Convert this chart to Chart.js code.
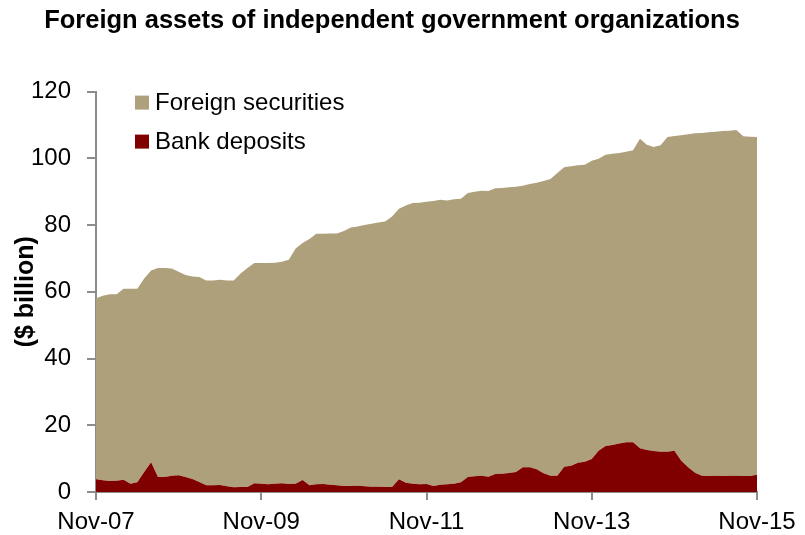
<!DOCTYPE html>
<html>
<head>
<meta charset="utf-8">
<script src="https://cdn.jsdelivr.net/npm/chart.js@4.4.1/dist/chart.umd.min.js"></script>
<style>
  html, body { margin: 0; padding: 0; background: #fff; }
  #wrap { width: 805px; height: 535px; }
</style>
</head>
<body>
<div id="wrap"><canvas id="assetsChart" width="805" height="535"></canvas></div>
<script>
// monthly, Nov-07 .. Nov-15
const months = ['Jan','Feb','Mar','Apr','May','Jun','Jul','Aug','Sep','Oct','Nov','Dec'];
const labels = [];
for (let i = 0; i <= 96; i++) {
    const m = (10 + i) % 12;
    const y = 7 + Math.floor((10 + i) / 12);
    labels.push(months[m] + '-' + String(y).padStart(2, '0'));
}

// $ billion
const bankDeposits = [
    3.8, 3.5, 3.3, 3.4, 3.7, 2.5, 2.9, 6.0, 8.9, 4.5, 4.5, 4.9,
    5.0, 4.5, 3.9, 3.0, 2.0, 2.0, 2.1, 1.7, 1.4, 1.5, 1.5, 2.6,
    2.5, 2.3, 2.5, 2.6, 2.4, 2.5, 3.6, 2.0, 2.3, 2.4, 2.2, 2.0,
    1.8, 1.8, 1.9, 1.7, 1.6, 1.6, 1.5, 1.5, 3.8, 2.8, 2.5, 2.3,
    2.4, 1.8, 2.2, 2.3, 2.5, 2.9, 4.5, 4.7, 4.9, 4.6, 5.4, 5.5,
    5.7, 6.0, 7.4, 7.4, 6.8, 5.6, 4.9, 4.9, 7.6, 7.9, 8.8, 9.1,
    9.9, 12.4, 13.8, 14.1, 14.5, 14.9, 14.9, 13.1, 12.6, 12.3, 12.1, 12.1,
    12.4, 9.4, 7.4, 5.8, 4.9, 4.8, 4.9, 4.8, 4.9, 4.9, 4.8, 4.8,
    5.2
];
const foreignSecurities = [
    54.3, 55.3, 56.0, 55.9, 57.2, 58.4, 58.0, 58.0, 57.5, 62.6, 62.6, 62.1,
    61.0, 60.5, 60.7, 61.4, 61.4, 61.4, 61.5, 61.7, 62.0, 64.0, 65.6, 66.0,
    66.1, 66.3, 66.2, 66.4, 67.2, 70.5, 71.0, 73.8, 75.1, 75.0, 75.3, 75.5,
    76.4, 77.5, 77.7, 78.3, 78.8, 79.2, 79.6, 81.1, 81.1, 83.1, 84.1, 84.4,
    84.6, 85.4, 85.4, 85.1, 85.2, 85.0, 85.1, 85.3, 85.4, 85.6, 85.6, 85.6,
    85.6, 85.5, 84.4, 84.9, 85.9, 87.6, 88.9, 90.7, 89.7, 89.7, 89.1, 89.0,
    89.4, 87.5, 87.3, 87.3, 87.1, 87.1, 87.5, 92.8, 91.5, 91.1, 91.8, 94.3,
    94.3, 97.5, 99.8, 101.7, 102.7, 103.0, 103.1, 103.4, 103.4, 103.6, 101.8, 101.7,
    101.2
];

const yTicks = [0, 20, 40, 60, 80, 100, 120];

const FONT = '"Liberation Sans", Arial, sans-serif';
Chart.defaults.font.family = FONT;
Chart.defaults.color = '#000';

// stacked legend drawn inside the plot, securities first
const innerLegend = {
    id: 'innerLegend',
    afterDraw(chart) {
        const c = chart.ctx;
        const area = chart.chartArea;
        const items = [chart.data.datasets[1], chart.data.datasets[0]];
        c.save();
        c.font = '24px ' + FONT;
        c.textBaseline = 'middle';
        items.forEach((ds, i) => {
            const y = area.top + 11 + i * 39;
            const x = area.left + 39;
            c.fillStyle = ds.backgroundColor;
            c.fillRect(x, y - 7, 14, 14);
            c.fillStyle = '#000';
            c.fillText(ds.label, x + 20, y + 1);
        });
        c.restore();
    }
};

new Chart(document.getElementById('assetsChart').getContext('2d'), {
    type: 'line',
    data: {
        labels: labels,
        datasets: [
            {
                label: 'Bank deposits',
                data: bankDeposits,
                backgroundColor: '#800000',
                borderWidth: 0,
                pointRadius: 0,
                fill: 'origin'
            },
            {
                label: 'Foreign securities',
                data: foreignSecurities,
                backgroundColor: '#ADA07A',
                borderWidth: 0,
                pointRadius: 0,
                fill: '-1'
            }
        ]
    },
    options: {
        responsive: false,
        animation: false,
        layout: { padding: { left: 27, right: 48, top: 0, bottom: 0 } },
        plugins: {
            legend: { display: false },
            tooltip: { enabled: false },
            title: {
                display: true,
                text: 'Foreign assets of independent government organizations',
                font: { size: 25.5, weight: 'bold', lineHeight: 1.2 },
                color: '#000',
                padding: { top: 6, bottom: 55 }
            }
        },
        scales: {
            x: {
                stacked: true,
                offset: false,
                afterFit: s => { s.height = 43; },
                border: { color: '#8c8c8c', width: 2 },
                grid: {
                    drawOnChartArea: false,
                    tickLength: 8,
                    lineWidth: 2,
                    color: ctx => (ctx.index % 24 === 0 ? '#8c8c8c' : 'rgba(0,0,0,0)')
                },
                ticks: {
                    autoSkip: false,
                    maxRotation: 0,
                    font: { size: 24 },
                    padding: 8,
                    callback: (v, i) => (i % 24 === 0 ? labels[i] : '')
                }
            },
            y: {
                stacked: true,
                min: yTicks[0],
                max: yTicks[yTicks.length - 1],
                afterFit: s => { s.width = 69; },
                border: { color: '#8c8c8c', width: 2 },
                grid: { drawOnChartArea: false, tickLength: 9, lineWidth: 2, color: '#8c8c8c' },
                ticks: { stepSize: 20, font: { size: 24 }, padding: 16 },
                title: {
                    display: true,
                    text: '($ billion)',
                    font: { size: 25, weight: 'bold', lineHeight: 1 },
                    padding: { top: -13, bottom: 0 }
                }
            }
        }
    },
    plugins: [innerLegend]
});
</script>
</body>
</html>
